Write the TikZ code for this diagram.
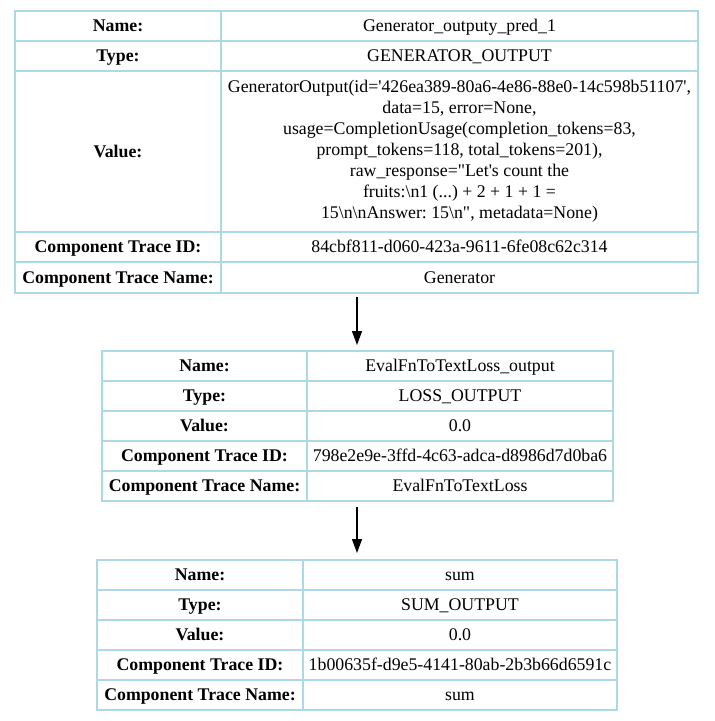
\documentclass[tikz,border=0pt]{standalone}
\usepackage{fontspec}
\setmainfont{Liberation Serif}[Ligatures=TeXOff]
\usetikzlibrary{arrows.meta}
\definecolor{cellblue}{HTML}{ADD8E6}

\begin{document}
\begin{tikzpicture}[x=1pt, y=-1pt,
    box/.style={draw=cellblue, line width=1.6pt, rectangle, anchor=north west, inner sep=0pt, outer sep=0pt, align=center, minimum height=30pt, font=\fontsize{17.8}{21}\selectfont\frenchspacing},
    cell/.style={box, text height=11.7pt, text depth=0pt},
    keycell/.style={cell, minimum width=206pt, font=\fontsize{17.8}{21}\selectfont\bfseries},
    arr/.style={-{Triangle[length=14pt,width=10pt]}, line width=1.3pt}]
    \useasboundingbox (0,0) rectangle (715,721);

    % generator output
    \node[keycell] (gname) at (15,11) {Name:};
    \node[cell, minimum width=477pt] (gnameval) at (221,11) {Generator\_outputy\_pred\_1};
    \node[keycell] (gtype) at (15,41) {Type:};
    \node[cell, minimum width=477pt] (gtypeval) at (221,41) {GENERATOR\_OUTPUT};
    \node[keycell, minimum height=161pt] (gvalue) at (15,71) {Value:};
    \node[box, minimum width=477pt, minimum height=161pt] (gvalueval) at (221,71) {GeneratorOutput(id='426ea389-80a6-4e86-88e0-14c598b51107',\\data=15, error=None,\\usage=CompletionUsage(completion\_tokens=83,\\prompt\_tokens=118, total\_tokens=201),\\raw\_response="Let's count the\\fruits:\textbackslash n1 (...) + 2 + 1 + 1 =\\15\textbackslash n\textbackslash nAnswer: 15\textbackslash n", metadata=None)};
    \node[keycell] (gid) at (15,232) {Component Trace ID:};
    \node[cell, minimum width=477pt] (gidval) at (221,232) {84cbf811-d060-423a-9611-6fe08c62c314};
    \node[keycell, minimum height=31pt] (gtrace) at (15,262) {Component Trace Name:};
    \node[cell, minimum width=477pt, minimum height=31pt] (gtraceval) at (221,262) {Generator};

    % loss output
    \node[keycell, minimum width=205pt] (lname) at (102,351) {Name:};
    \node[cell, minimum width=306pt] (lnameval) at (307,351) {EvalFnToTextLoss\_output};
    \node[keycell, minimum width=205pt] (ltype) at (102,381) {Type:};
    \node[cell, minimum width=306pt] (ltypeval) at (307,381) {LOSS\_OUTPUT};
    \node[keycell, minimum width=205pt] (lvalue) at (102,411) {Value:};
    \node[cell, minimum width=306pt] (lvalueval) at (307,411) {0.0};
    \node[keycell, minimum width=205pt] (lid) at (102,441) {Component Trace ID:};
    \node[cell, minimum width=306pt] (lidval) at (307,441) {798e2e9e-3ffd-4c63-adca-d8986d7d0ba6};
    \node[keycell, minimum width=205pt] (ltrace) at (102,471) {Component Trace Name:};
    \node[cell, minimum width=306pt] (ltraceval) at (307,471) {EvalFnToTextLoss};

    % sum output
    \node[keycell] (sname) at (97,560) {Name:};
    \node[cell, minimum width=314pt] (snameval) at (303,560) {sum};
    \node[keycell] (stype) at (97,590) {Type:};
    \node[cell, minimum width=314pt] (stypeval) at (303,590) {SUM\_OUTPUT};
    \node[keycell] (svalue) at (97,620) {Value:};
    \node[cell, minimum width=314pt] (svalueval) at (303,620) {0.0};
    \node[keycell] (sid) at (97,650) {Component Trace ID:};
    \node[cell, minimum width=314pt] (sidval) at (303,650) {1b00635f-d9e5-4141-80ab-2b3b66d6591c};
    \node[keycell] (strace) at (97,680) {Component Trace Name:};
    \node[cell, minimum width=314pt] (straceval) at (303,680) {sum};

    \coordinate (gbottom) at (357,293);
    \coordinate (ltop) at (357,351);
    \coordinate (lbottom) at (357,501);
    \coordinate (stop) at (357,560);
    \draw[arr, shorten <=4pt, shorten >=6pt] (gbottom) -- (ltop);
    \draw[arr, shorten <=6pt, shorten >=7pt] (lbottom) -- (stop);
\end{tikzpicture}
\end{document}
